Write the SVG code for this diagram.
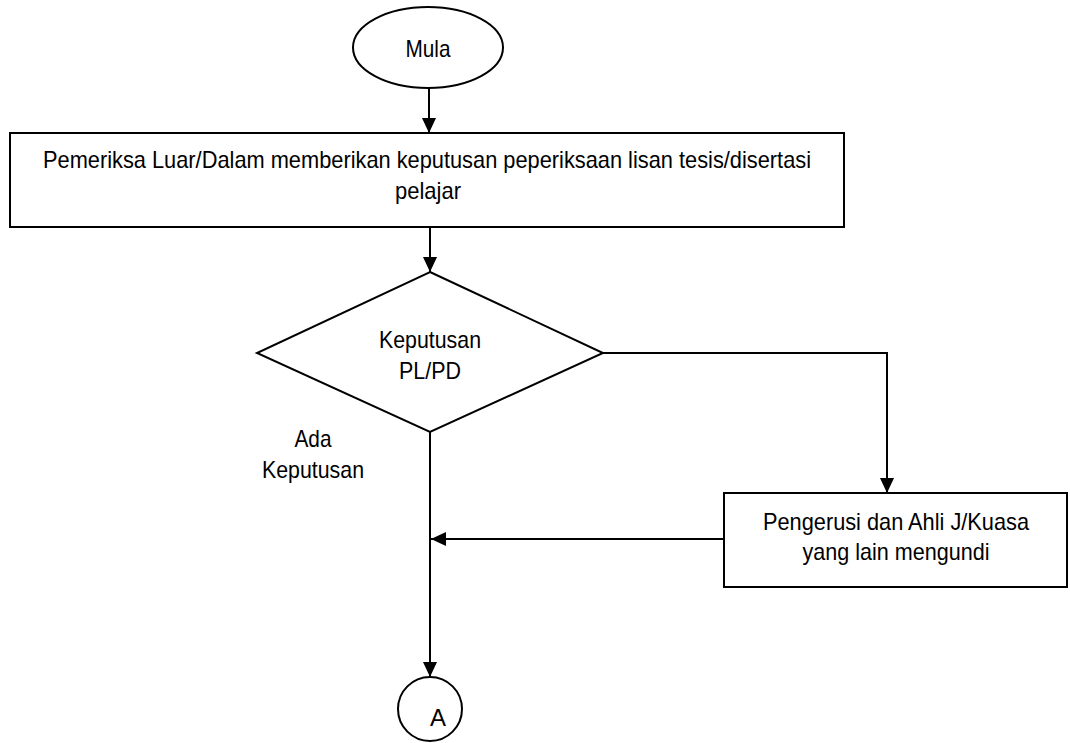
<svg xmlns="http://www.w3.org/2000/svg" width="1070" height="743" viewBox="0 0 1070 743">
<style>
.shape{fill:#fff;stroke:#000;stroke-width:2}
.conn{fill:none;stroke:#000;stroke-width:2}
text{font-family:"Liberation Sans",Arial,sans-serif;font-size:24px;fill:#000;text-anchor:middle}
</style>
<defs>
<marker id="arr" viewBox="0 0 15 14" refX="15" refY="7" markerWidth="15" markerHeight="14" markerUnits="userSpaceOnUse" orient="auto">
<path d="M0,0 L15,7 L0,14 Z" fill="#000"/>
</marker>
</defs>
<rect width="1070" height="743" fill="#fff"/>
<g id="connectors">
<path class="conn" d="M429,88 L429,133" marker-end="url(#arr)"/>
<path class="conn" d="M430,227 L430,272" marker-end="url(#arr)"/>
<path class="conn" d="M603,353 L887,353 L887,493" marker-end="url(#arr)"/>
<path class="conn" d="M430,432 L430,677" marker-end="url(#arr)"/>
<path class="conn" d="M724,539 L431,539" marker-end="url(#arr)"/>
</g>
<g id="mula">
<ellipse class="shape" cx="428" cy="47.5" rx="75" ry="40.5"/>
<text x="428" y="57" textLength="45" lengthAdjust="spacingAndGlyphs">Mula</text>
</g>
<g id="pemeriksa">
<rect class="shape" x="10" y="133" width="834" height="94"/>
<text x="427" y="168" textLength="768" lengthAdjust="spacingAndGlyphs">Pemeriksa Luar/Dalam memberikan keputusan peperiksaan lisan tesis/disertasi</text>
<text x="428" y="199" textLength="66" lengthAdjust="spacingAndGlyphs">pelajar</text>
</g>
<g id="keputusan">
<polygon class="shape" points="430,272 603,353 430,432 257,353"/>
<text x="430" y="348" textLength="102" lengthAdjust="spacingAndGlyphs">Keputusan</text>
<text x="430" y="379" textLength="62" lengthAdjust="spacingAndGlyphs">PL/PD</text>
</g>
<g id="label-ada">
<text x="313" y="447" textLength="37" lengthAdjust="spacingAndGlyphs">Ada</text>
<text x="313" y="478" textLength="102" lengthAdjust="spacingAndGlyphs">Keputusan</text>
</g>
<g id="pengerusi">
<rect class="shape" x="724" y="493" width="343" height="94"/>
<text x="896" y="530" textLength="266" lengthAdjust="spacingAndGlyphs">Pengerusi dan Ahli J/Kuasa</text>
<text x="896" y="560" textLength="187" lengthAdjust="spacingAndGlyphs">yang lain mengundi</text>
</g>
<g id="connector-a">
<circle class="shape" cx="430" cy="709" r="32"/>
<text x="438" y="726" textLength="16" lengthAdjust="spacingAndGlyphs">A</text>
</g>
</svg>
